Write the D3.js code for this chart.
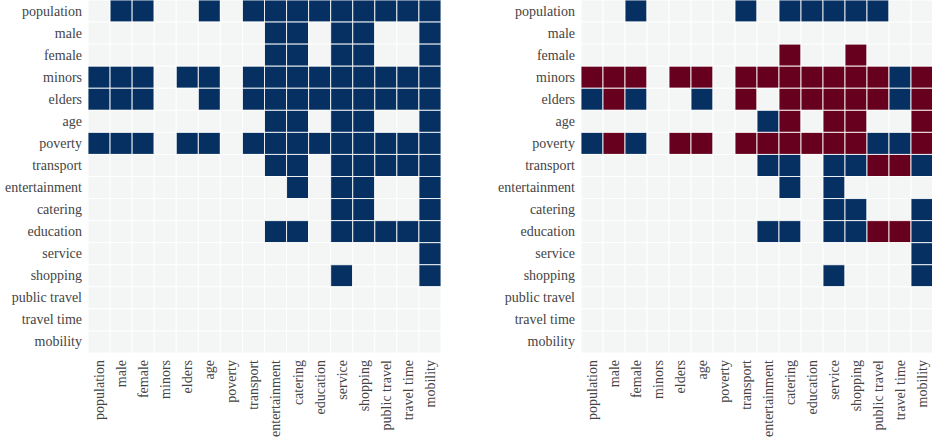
<!DOCTYPE html>
<html>
<head>
<meta charset="utf-8">
<script src="https://cdn.jsdelivr.net/npm/d3@7"></script>
<style>
  body { margin: 0; background: #fff; }
</style>
</head>
<body>
<svg id="chart" width="932" height="443" font-family="Liberation Serif, serif" font-size="14"></svg>
<script>
// Data

var variables = ["population", "male", "female", "minors", "elders", "age", "poverty", "transport",
  "entertainment", "catering", "education", "service", "shopping", "public travel", "travel time", "mobility"];

// left panel: 1 = significant
var left_population    = [0,1,1,0,0,1,0,1,1,1,1,1,1,1,1,1];
var left_male          = [0,0,0,0,0,0,0,0,1,1,0,1,1,0,0,1];
var left_female        = [0,0,0,0,0,0,0,0,1,1,0,1,1,0,0,1];
var left_minors        = [1,1,1,0,1,1,0,1,1,1,1,1,1,1,1,1];
var left_elders        = [1,1,1,0,0,1,0,1,1,1,1,1,1,1,1,1];
var left_age           = [0,0,0,0,0,0,0,0,1,1,0,1,1,0,0,1];
var left_poverty       = [1,1,1,0,1,1,0,1,1,1,1,1,1,1,1,1];
var left_transport     = [0,0,0,0,0,0,0,0,1,1,0,1,1,1,1,1];
var left_entertainment = [0,0,0,0,0,0,0,0,0,1,0,1,1,0,0,1];
var left_catering      = [0,0,0,0,0,0,0,0,0,0,0,1,1,0,0,1];
var left_education     = [0,0,0,0,0,0,0,0,1,1,0,1,1,1,1,1];
var left_service       = [0,0,0,0,0,0,0,0,0,0,0,0,0,0,0,1];
var left_shopping      = [0,0,0,0,0,0,0,0,0,0,0,1,0,0,0,1];
var left_public_travel = [0,0,0,0,0,0,0,0,0,0,0,0,0,0,0,0];
var left_travel_time   = [0,0,0,0,0,0,0,0,0,0,0,0,0,0,0,0];
var left_mobility      = [0,0,0,0,0,0,0,0,0,0,0,0,0,0,0,0];

// right panel: 1 = positive (blue), -1 = negative (red)
var right_population    = [ 0, 0, 1, 0, 0, 0, 0, 1, 0, 1, 1, 1, 1, 1, 0, 0];
var right_male          = [ 0, 0, 0, 0, 0, 0, 0, 0, 0, 0, 0, 0, 0, 0, 0, 0];
var right_female        = [ 0, 0, 0, 0, 0, 0, 0, 0, 0,-1, 0, 0,-1, 0, 0, 0];
var right_minors        = [-1,-1,-1, 0,-1,-1, 0,-1,-1,-1,-1,-1,-1,-1, 1,-1];
var right_elders        = [ 1,-1, 1, 0, 0, 1, 0,-1, 0,-1,-1,-1,-1,-1, 1,-1];
var right_age           = [ 0, 0, 0, 0, 0, 0, 0, 0, 1,-1, 0,-1,-1, 0, 0,-1];
var right_poverty       = [ 1,-1, 1, 0,-1,-1, 0,-1,-1,-1,-1,-1,-1, 1, 1,-1];
var right_transport     = [ 0, 0, 0, 0, 0, 0, 0, 0, 1, 1, 0, 1, 1,-1,-1, 1];
var right_entertainment = [ 0, 0, 0, 0, 0, 0, 0, 0, 0, 1, 0, 1, 0, 0, 0, 0];
var right_catering      = [ 0, 0, 0, 0, 0, 0, 0, 0, 0, 0, 0, 1, 1, 0, 0, 1];
var right_education     = [ 0, 0, 0, 0, 0, 0, 0, 0, 1, 1, 0, 1, 1,-1,-1, 1];
var right_service       = [ 0, 0, 0, 0, 0, 0, 0, 0, 0, 0, 0, 0, 0, 0, 0, 1];
var right_shopping      = [ 0, 0, 0, 0, 0, 0, 0, 0, 0, 0, 0, 1, 0, 0, 0, 1];
var right_public_travel = [ 0, 0, 0, 0, 0, 0, 0, 0, 0, 0, 0, 0, 0, 0, 0, 0];
var right_travel_time   = [ 0, 0, 0, 0, 0, 0, 0, 0, 0, 0, 0, 0, 0, 0, 0, 0];
var right_mobility      = [ 0, 0, 0, 0, 0, 0, 0, 0, 0, 0, 0, 0, 0, 0, 0, 0];

var left_matrix = [left_population, left_male, left_female, left_minors, left_elders, left_age,
  left_poverty, left_transport, left_entertainment, left_catering, left_education, left_service,
  left_shopping, left_public_travel, left_travel_time, left_mobility];
var right_matrix = [right_population, right_male, right_female, right_minors, right_elders, right_age,
  right_poverty, right_transport, right_entertainment, right_catering, right_education, right_service,
  right_shopping, right_public_travel, right_travel_time, right_mobility];

// Draw

var svg = d3.select("#chart");
var color = function(v) { return v > 0 ? "#053061" : v < 0 ? "#67001f" : "#f4f6f6"; };

addHeatmap(left_matrix, 88, 441);
addHeatmap(right_matrix, 581, 933);

function addHeatmap(matrix, x0, x1) {
  var x = d3.scaleBand().domain(variables).range([x0, x1]);
  var y = d3.scaleBand().domain(variables).range([0, 353]);

  var cells = [];
  matrix.forEach(function(row, i) {
    row.forEach(function(v, j) {
      cells.push({row: variables[i], col: variables[j], value: v});
    });
  });

  svg.append("g").selectAll("rect")
    .data(cells)
    .enter().append("rect")
    .attr("x", function(d) { return x(d.col); })
    .attr("y", function(d) { return y(d.row); })
    .attr("width", x.bandwidth())
    .attr("height", y.bandwidth())
    .attr("fill", function(d) { return color(d.value); })
    .attr("stroke", "#fff")
    .attr("stroke-opacity", 0.85)
    .attr("stroke-width", 1);

  // axes: drop d3's default font attributes so the svg's serif font is inherited
  var ya = svg.append("g")
    .attr("class", "y-axis")
    .attr("transform", "translate(" + x0 + ",0)")
    .call(d3.axisLeft(y).tickSize(0).tickPadding(6))
    .attr("font-family", null)
    .attr("font-size", null);
  ya.select(".domain").remove();
  ya.selectAll(".tick text").attr("fill", "#444");

  var xa = svg.append("g")
    .attr("class", "x-axis")
    .attr("transform", "translate(0,353)")
    .call(d3.axisBottom(x).tickSize(0))
    .attr("font-family", null)
    .attr("font-size", null);
  xa.select(".domain").remove();
  xa.selectAll(".tick text")
    .attr("fill", "#444")
    .attr("text-anchor", "end")
    .attr("transform", "rotate(-90)")
    .attr("x", -7)
    .attr("y", 0)
    .attr("dy", "0.35em");
}
</script>
</body>
</html>
